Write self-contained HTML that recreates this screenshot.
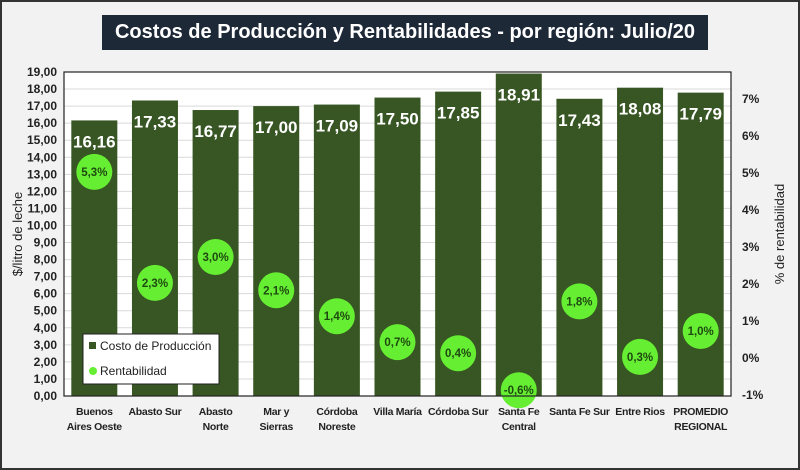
<!DOCTYPE html>
<html><head><meta charset="utf-8">
<style>
html,body{margin:0;padding:0;}
body{width:800px;height:470px;background:#f2f2f2;font-family:"Liberation Sans",sans-serif;position:relative;overflow:hidden;}
#frame{position:absolute;left:0;top:0;width:796px;height:466px;border:2px solid #333;}
#title{position:absolute;left:102px;top:15px;width:606px;height:35px;background:#1e2938;color:#fff;font-weight:bold;font-size:20px;line-height:35px;text-align:center;white-space:nowrap;overflow:hidden;}
svg{position:absolute;left:0;top:0;}
</style></head><body>
<div id="frame"></div>
<div id="title">Costos de Producción y Rentabilidades - por región: Julio/20</div>
<svg id="chart" width="800" height="470"></svg>
<script>
const categories=[["Buenos","Aires Oeste"],["Abasto Sur"],["Abasto","Norte"],["Mar y","Sierras"],["Córdoba","Noreste"],["Villa María"],["Córdoba Sur"],["Santa Fe","Central"],["Santa Fe Sur"],["Entre Rios"],["PROMEDIO","REGIONAL"]];
const costs=[16.16,17.33,16.77,17.00,17.09,17.50,17.85,18.91,17.43,18.08,17.79];
const rent=[5.3,2.3,3.0,2.1,1.4,0.7,0.4,-0.6,1.8,0.3,1.0];
const leftTicks=[0,1,2,3,4,5,6,7,8,9,10,11,12,13,14,15,16,17,18,19];
const rightTicks=[-1,0,1,2,3,4,5,6,7];

const NS="http://www.w3.org/2000/svg";
const svg=document.getElementById('chart');
const X0=64,X1=731,Y0=396,Y1=72;
const yL=v=>Y0-(v/19)*(Y0-Y1);
const yR=v=>358-v*37;
const MARK_OFF=10;
const step=(X1-X0)/categories.length;
const xc=i=>X0+step*(i+0.5);
function el(t,a,txt){const e=document.createElementNS(NS,t);for(const k in a)e.setAttribute(k,a[k]);if(txt!==undefined)e.textContent=txt;svg.appendChild(e);return e;}
const fmt=v=>v.toFixed(2).replace('.',',');

const bg=el('rect',{x:X0,y:Y1,width:X1-X0,height:Y0-Y1,fill:'#fff'});


leftTicks.forEach(v=>{
  const g=el('line',{x1:X0,x2:X1,y1:yL(v),y2:yL(v),stroke:'#d9d9d9','stroke-width':1});
  
  
  const t=el('text',{x:57,y:yL(v)+4,'text-anchor':'end','font-size':12,'font-weight':'bold',fill:'#222'},fmt(v));
  
  
});
rightTicks.forEach(v=>{
  const t=el('text',{x:742,y:yR(v)+4,'font-size':12,'font-weight':'bold',fill:'#222'},v+'%');
  
  
});
costs.forEach((v,i)=>{
  const b=el('rect',{x:xc(i)-23,y:yL(v),width:46,height:Y0-yL(v),fill:'#375623'});
  
  
  const t=el('text',{x:xc(i),y:yL(v)+27,'text-anchor':'middle','font-size':17,'font-weight':'bold',fill:'#fff'},fmt(v));
  
  
  const lines=categories[i];
  lines.forEach((s,j)=>{
    const c=el('text',{x:xc(i),y:415+j*15,'text-anchor':'middle','font-size':10.5,'font-weight':'bold','letter-spacing':'-0.3',fill:'#222'},s);
    
    
  });
});
rent.forEach((v,i)=>{
  const cy=yR(v)+MARK_OFF;
  const c=el('circle',{cx:xc(i),cy:cy,r:18,fill:'#66ee33'});
  
  
  const t=el('text',{x:xc(i),y:cy+4,'text-anchor':'middle','font-size':11.5,'font-weight':'bold',fill:'#1e4a10'},v.toFixed(1).replace('.',',')+'%');
  
  
});
const fr=el('rect',{x:X0,y:Y1,width:X1-X0,height:Y0-Y1,fill:'none',stroke:'#222','stroke-width':1.2});


const yt=el('text',{transform:'translate(22,234) rotate(-90)','text-anchor':'middle','font-size':13,fill:'#222'},'$/litro de leche');


const yt2=el('text',{transform:'translate(784,234) rotate(-90)','text-anchor':'middle','font-size':13,fill:'#222'},'% de rentabilidad');


const lg=el('rect',{x:83,y:334,width:136,height:50,fill:'#fff',stroke:'#222','stroke-width':1});


const l1=el('rect',{x:89,y:342,width:7,height:7,fill:'#375623'});


const l1t=el('text',{x:100,y:350,'font-size':12,fill:'#222'},'Costo de Producción');


const l2=el('circle',{cx:93,cy:371,r:4,fill:'#66ee33'});


const l2t=el('text',{x:100,y:375,'font-size':12,fill:'#222'},'Rentabilidad');


</script>
</body></html>
